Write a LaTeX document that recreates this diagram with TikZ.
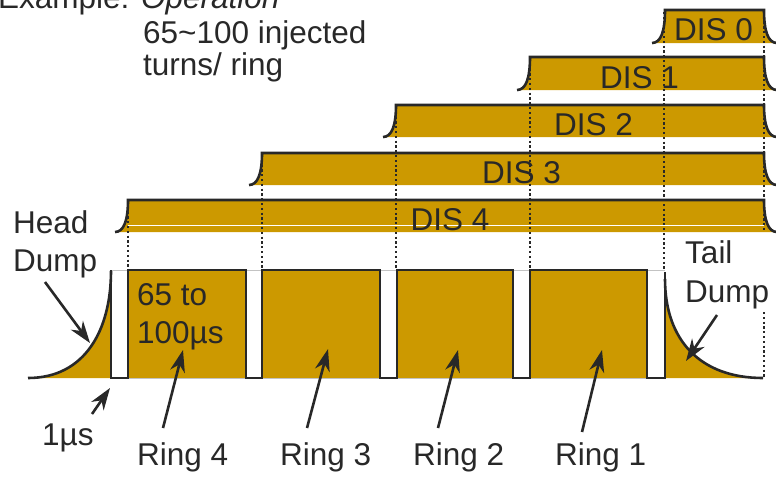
\documentclass[tikz,border=0pt]{standalone}
\usepackage{fontspec}
\setmainfont{Liberation Sans}
\usetikzlibrary{arrows.meta}
\definecolor{gold}{RGB}{204,153,0}
\definecolor{ink}{RGB}{40,40,40}
\definecolor{pale}{RGB}{195,195,195}
\begin{document}
\begin{tikzpicture}[x=1pt,y=-1pt,
  lab/.style={font=\fontsize{31.5}{36}\selectfont, text=ink, inner sep=0pt, anchor=base west},
  dislab/.style={font=\fontsize{31.5}{36}\selectfont, text=ink, inner sep=0pt, anchor=base},
  outl/.style={draw=ink, line width=2.6pt},
  guide/.style={draw=ink, line width=2.4pt, dash pattern=on 2.2pt off 2.6pt},
  pointer/.style={draw=ink, line width=2.6pt, -{Stealth[length=22pt,width=15pt,inset=7pt]}}]
\useasboundingbox (0,0) rectangle (776,477);

% top text
\node[lab] (ex) at (-2,8) {Example: \textit{Operation}};
\node[lab] (inj1) at (143,43) {65\textasciitilde100 injected};
\node[lab] (inj2) at (143,75) {turns/ ring};

% DIS bars
\foreach \xl/\t/\b in {665/10/43, 530/57/90, 396/105/137, 262/153/185, 128/200/232} {
  \fill[gold] (\xl-13,\b) .. controls (\xl-4,\b) and (\xl,\b-12) .. (\xl,\t)
     -- (764,\t) .. controls (764,\b-12) and (768,\b) .. (777,\b) -- cycle;
  \draw[outl] (\xl-13,\b) .. controls (\xl-4,\b) and (\xl,\b-12) .. (\xl,\t)
     -- (764,\t) .. controls (764,\b-12) and (768,\b) .. (777,\b);
}
\draw[white, line width=1pt] (128,225) -- (764,225);

% ring row
\fill[gold] (128,270) rectangle (246,378);
\fill[gold] (262,270) rectangle (380,378);
\fill[gold] (397,270) rectangle (513,378);
\fill[gold] (530,270) rectangle (647,378);
\fill[gold] (28,378) .. controls (85,378) and (111,330) .. (111,271) -- (111,378) -- cycle;
\fill[gold] (665,279) .. controls (665,340) and (700,378) .. (763,378) -- (665,378) -- cycle;
\draw[pale, line width=1pt] (111,270) -- (665,270);
\draw[pale, line width=1pt] (111,378) -- (665,378);
\draw[outl, line join=miter] (111,270) -- (111,378) -- (128,378) -- (128,270) -- (246,270)
  -- (246,378) -- (262,378) -- (262,270) -- (380,270) -- (380,378) -- (397,378)
  -- (397,270) -- (513,270) -- (513,378) -- (530,378) -- (530,270) -- (647,270)
  -- (647,378) -- (665,378) -- (665,272);
\draw[outl] (28,378) .. controls (85,378) and (111,330) .. (111,271);
\draw[outl] (665,279) .. controls (665,340) and (700,378) .. (763,378);

% dotted guides
\draw[guide] (128,202) -- (128,270);
\draw[guide] (262,155) -- (262,270);
\draw[guide] (396,107) -- (396,270);
\draw[guide] (530,59) -- (530,270);
\draw[guide] (664,12) -- (664,270);
\draw[guide] (764,12) -- (764,232);
\draw[guide] (764,312) -- (764,378);

% DIS labels
\node[dislab] (dis0) at (713.5,40.5) {DIS 0};
\node[dislab] (dis1) at (639.5,88) {DIS 1};
\node[dislab] (dis2) at (593.5,135) {DIS 2};
\node[dislab] (dis3) at (521.5,183) {DIS 3};
\node[dislab] (dis4) at (450,230) {DIS 4};

% labels
\node[lab] (hd1) at (13,233) {Head};
\node[lab] (hd2) at (13,271) {Dump};
\node[lab] (td1) at (685,263) {Tail};
\node[lab] (td2) at (685,302) {Dump};
\node[lab] (len1) at (137,305) {65 to};
\node[lab] (len2) at (137,343) {100µs};
\node[lab] (onemu) at (42,445) {1µs};
\node[lab] (r4) at (137,465) {Ring 4};
\node[lab] (r3) at (280,465) {Ring 3};
\node[lab] (r2) at (413,465) {Ring 2};
\node[lab] (r1) at (555,465) {Ring 1};

% arrow ends
\coordinate (hdT) at (45,282);  \coordinate (hdH) at (90,343);
\coordinate (tdT) at (717,315); \coordinate (tdH) at (686,361);
\coordinate (muT) at (92,414);  \coordinate (muH) at (110,388);
\coordinate (r4T) at (163,428); \coordinate (r4H) at (183,350);
\coordinate (r3T) at (307,428); \coordinate (r3H) at (328,349);
\coordinate (r2T) at (438,428); \coordinate (r2H) at (458,350);
\coordinate (r1T) at (582,432); \coordinate (r1H) at (602,350);

\draw[pointer] (hdT) -- (hdH);
\draw[pointer] (tdT) -- (tdH);
\draw[pointer] (muT) -- (muH);
\draw[pointer] (r4T) -- (r4H);
\draw[pointer] (r3T) -- (r3H);
\draw[pointer] (r2T) -- (r2H);
\draw[pointer] (r1T) -- (r1H);
\end{tikzpicture}
\end{document}
